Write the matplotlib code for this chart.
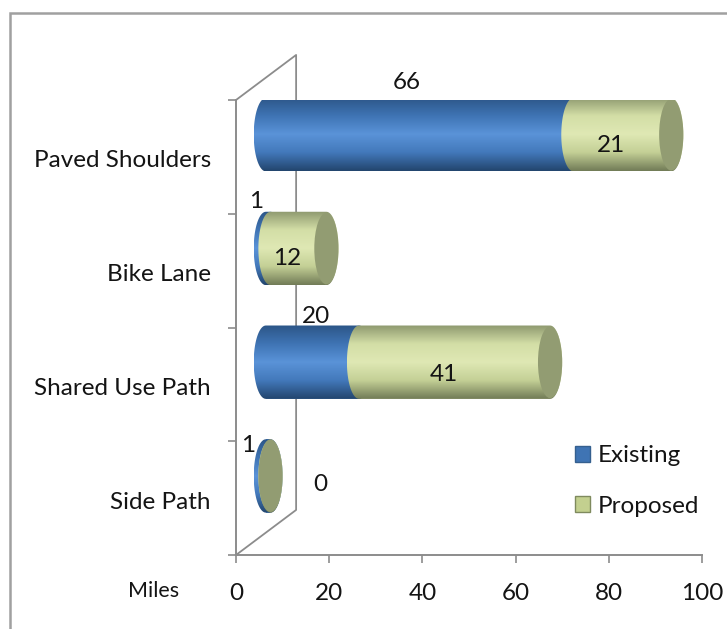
import numpy as np
import matplotlib

matplotlib.use("Agg")
import matplotlib.pyplot as plt
from matplotlib.colors import to_rgb
from matplotlib.patches import Ellipse, PathPatch, Patch, Rectangle
from matplotlib.path import Path
from matplotlib.transforms import ScaledTranslation

categories = ["Side Path", "Shared Use Path", "Bike Lane", "Paved Shoulders"]
existing = [1, 20, 1, 66]
proposed = [0, 41, 12, 21]
x_ticks = [0, 20, 40, 60, 80, 100]

plt.rcParams['font.family'] = ['Lato', 'DejaVu Sans']
W, H = 727, 629
GRAY = "#8c8c8c"
TXT = "#141414"
FS = 17.5

# depth of the fake 3d box, data units
bar_dx, bar_dy = 6.4, 0.195
wall_dx, wall_dy = 12.9, 0.396
bar_h = 0.645
rx = 2.6

blue_stops = ["#2c5688", "#3f74b4", "#5a93d8", "#4379bb", "#23466f"]
green_stops = ["#8f9a70", "#d3dea6", "#dfe8b4", "#c4d096", "#737d58"]
cap_color = "#929c72"


def shade(stops, n=64):
    rgb = np.array([to_rgb(c) for c in stops])
    t = np.linspace(0, 1, n)
    pos = np.linspace(0, 1, len(stops))
    return np.stack([np.interp(t, pos, rgb[:, k]) for k in range(3)], axis=1)[:, None, :]


def capsule(x0, x1, y, h):
    # body with a round bulge on both ends
    a = np.linspace(np.pi / 2, 3 * np.pi / 2, 40)
    left = np.c_[x0 + rx * np.cos(a), y + h / 2 * np.sin(a)]
    right = np.c_[x1 - rx * np.cos(a), y - h / 2 * np.sin(a)]
    pts = np.vstack([left, right, left[:1]])
    return Path(pts, closed=True)


def cylinder(ax, bars, stops, z):
    for b in bars:
        x0, x1 = b.get_x(), b.get_x() + b.get_width()
        yc = b.get_y() + b.get_height() / 2
        h = b.get_height()
        shape = PathPatch(capsule(x0, x1, yc, h), transform=ax.transData, fc="none", ec="none")
        ax.add_patch(shape)
        im = ax.imshow(shade(stops), extent=(x0 - rx, x1 + rx, yc - h / 2, yc + h / 2),
                       origin="upper", aspect="auto", interpolation="bilinear", zorder=z)
        im.set_clip_path(shape)
        im.set_clip_on(True)


fig = plt.figure(figsize=(W / 100, H / 100), dpi=100)
ax = fig.add_axes([236 / W, 1 - 555 / H, 466 / W, 455 / H])

# outer frame of the picture
fig.add_artist(Rectangle((9.5 / W, -0.02), 0.99, 1 - 12.5 / H + 0.02, transform=fig.transFigure,
                         fc="none", ec="#a0a0a0", lw=1.8))

ys = np.arange(len(categories)) + 0.5
bar_y = ys + bar_dy
start = np.full(len(ys), bar_dx)

ax.plot([0, wall_dx, wall_dx, 0], [4, 4 + wall_dy, wall_dy, 0], color=GRAY, lw=1.3, zorder=1, clip_on=False)

bars_e = ax.barh(bar_y, existing, height=bar_h, left=start, color=blue_stops[2], zorder=2)
bars_p = ax.barh(bar_y, proposed, height=bar_h, left=start + np.array(existing), color=green_stops[2], zorder=3)
cylinder(ax, bars_e, blue_stops, 3)
cylinder(ax, bars_p, green_stops, 4)
for b in bars_p:
    ax.add_patch(Ellipse((b.get_x() + b.get_width(), b.get_y() + b.get_height() / 2), 2 * rx,
                         b.get_height() * 0.98, fc=cap_color, ec="none", zorder=5))

# data labels, shifted by hand in pixels like the original
off_e = [(-20, 30), (4, 46), (-12, 47), (-13, 52)]
off_p = [(0, 0), (-11, -12), (-11, -10), (-11, -11)]
for i in range(len(categories)):
    be, bp = bars_e[i], bars_p[i]
    yc = be.get_y() + bar_h / 2
    ax.annotate(str(existing[i]), (be.get_x() + be.get_width() / 2, yc), xytext=off_e[i],
                textcoords="offset pixels", ha="center", va="center", fontsize=FS, color=TXT,
                zorder=6, annotation_clip=False)
    if proposed[i] > 0:
        ax.annotate(str(proposed[i]), (bp.get_x() + bp.get_width() / 2, yc), xytext=off_p[i],
                    textcoords="offset pixels", ha="center", va="center", fontsize=FS, color=TXT,
                    zorder=6, annotation_clip=False)
ax.annotate(str(proposed[0]), (bars_p[0].get_x(), bars_p[0].get_y() + bar_h / 2), xytext=(50, -9),
            textcoords="offset pixels", ha="center", va="center", fontsize=FS, color=TXT, zorder=6)

ax.set_xlim(0, 100)
ax.set_ylim(0, 4)
ax.patch.set_alpha(0)
for s in ["top", "right"]:
    ax.spines[s].set_visible(False)
for s in ["left", "bottom"]:
    ax.spines[s].set_color(GRAY)
    ax.spines[s].set_linewidth(1.4)

ax.set_xticks(x_ticks)
ax.tick_params(axis="x", length=6, width=1.2, color=GRAY, pad=14, labelsize=FS, labelcolor=TXT)
ax.set_yticks(np.arange(5))
ax.set_yticklabels([])
ax.tick_params(axis="y", which="major", length=6, width=1.2, color=GRAY)
ax.set_yticks(ys, minor=True)
ax.set_yticklabels(categories, minor=True, fontsize=FS, color=TXT)
ax.tick_params(axis="y", which="minor", length=0, pad=18)
# category names sit a little under the middle of their band
for lab in ax.get_yticklabels(minor=True):
    lab.set_transform(lab.get_transform() + ScaledTranslation(0, -2 / 100, fig.dpi_scale_trans))

fig.text(154 / W, 1 - 591 / H, "Miles", ha="center", va="center", fontsize=15.5, color=TXT)

handles = [Patch(fc=blue_stops[1], ec="#35608f", label="Existing"),
           Patch(fc="#c3d08f", ec="#7f8a5e", label="Proposed")]
fig.legend(handles=handles, loc="center left", bbox_to_anchor=(575 / W, 1 - 481 / H), frameon=False,
           fontsize=FS, handlelength=0.62, handleheight=0.62, handletextpad=0.33, labelspacing=1.2,
           borderaxespad=0, borderpad=0, labelcolor=TXT)

fig.savefig("out.png", dpi=100)
